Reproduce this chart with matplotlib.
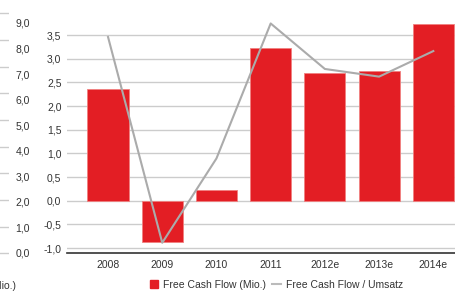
import matplotlib
matplotlib.use("Agg")
import matplotlib.pyplot as plt
from matplotlib.lines import Line2D

plt.rcParams['font.family'] = ['Liberation Sans', 'DejaVu Sans']

years = ["2008", "2009", "2010", "2011", "2012e", "2013e", "2014e"]
fcf_mio = [2.36, -0.87, 0.23, 3.23, 2.70, 2.74, 3.73]
fcf_umsatz = [8.45, 0.40, 3.70, 8.98, 7.20, 6.90, 7.90]
left_ticks = [-1.0, -0.5, 0.0, 0.5, 1.0, 1.5, 2.0, 2.5, 3.0, 3.5]
outer_ticks = [0, 1, 2, 3, 4, 5, 6, 7, 8, 9]

W, H = 455, 291
fig = plt.figure(figsize=(W / 100, H / 100), dpi=100)

def fx(px):
    return px / W

def fy(py):
    return 1 - py / H

ax_l, ax_r, ax_t, ax_b = 67, 455, 0, 253
ax = fig.add_axes([fx(ax_l), fy(ax_b), fx(ax_r - ax_l), (ax_b - ax_t) / H])
text_c = '#333333'
red = '#E31E24'

x = list(range(len(years)))
ax.bar(x, fcf_mio, width=0.76, color=red, edgecolor='#F08080', linewidth=0.6, zorder=3)
ax.set_xlim(-0.757, 6.40)
ax.set_ylim(-1.105, 4.24)
ax.set_yticks(left_ticks)
ax.set_yticklabels([f"{v:.1f}".replace('.', ',') for v in left_ticks])
ax.set_xticks(x)
ax.set_xticklabels(years)
ax.yaxis.grid(True, color='#CCCCCC', linewidth=1.0, zorder=0)
ax.set_axisbelow(True)
for s in ['top', 'right', 'left']:
    ax.spines[s].set_visible(False)
ax.spines['bottom'].set_color('#333333')
ax.spines['bottom'].set_linewidth(1.2)
ax.tick_params(axis='both', length=0, labelsize=7.5, colors=text_c)
ax.tick_params(axis='y', pad=4)
ax.tick_params(axis='x', pad=5)

ax2 = ax.twinx()
ax2.plot(x, fcf_umsatz, color='#ABABAB', linewidth=1.5, zorder=4)
ax2.set_ylim(0, 253 / 25.56)
ax2.set_yticks(outer_ticks)
ax2.set_yticklabels([f"{v:.1f}".replace('.', ',') for v in outer_ticks])
ax2.yaxis.set_ticks_position('left')
ax2.spines['left'].set_position(('outward', (67 - 30) * 0.72))
for s in ['top', 'right', 'left', 'bottom']:
    ax2.spines[s].set_visible(False)
ax2.tick_params(axis='y', length=0, labelsize=7.5, colors=text_c, pad=0)
ax.set_zorder(1)
ax2.set_zorder(2)
ax2.patch.set_visible(False)

# cropped gridline stubs at far left
stub = fig.add_axes([0, fy(266.7), fx(9), 266.7 / H])
stub.set_xlim(0, 1)
stub.set_ylim(0, 266.7)
for py in [13, 40, 67, 93, 120, 147, 173, 200, 227, 253]:
    stub.axhline(266.7 - py, color='#CCCCCC', linewidth=1.0)
stub.axis('off')

fig.text(fx(16), fy(286), "Free Cash Flow (Mio.)", ha='right', va='center', fontsize=7.5, color=text_c)

handles = [Line2D([0], [0], color=red, marker='s', markersize=5.5, linestyle='none'),
           Line2D([0], [0], color='#BBBBBB', linewidth=1.5)]
fig.legend(handles, ["Free Cash Flow (Mio.)", "Free Cash Flow / Umsatz"],
           loc='center', bbox_to_anchor=(fx(276), fy(285)), ncol=2, frameon=False,
           fontsize=7.5, handlelength=0.9, handletextpad=0.4,
           columnspacing=0.6, labelcolor=text_c)

fig.savefig("out.png", dpi=100)
